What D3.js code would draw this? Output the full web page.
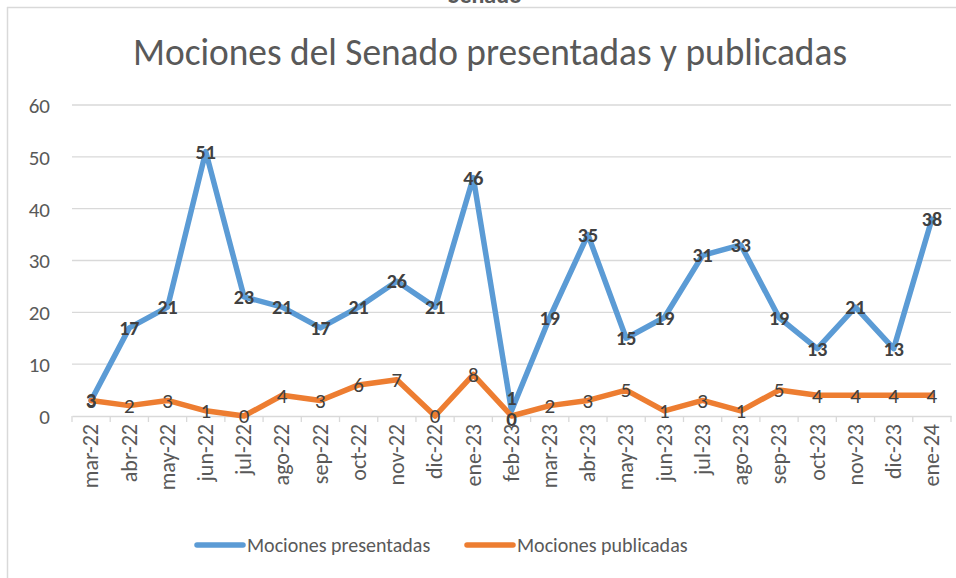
<!DOCTYPE html>
<html><head><meta charset="utf-8">
<script src="https://cdn.jsdelivr.net/npm/d3@7"></script>
<style>body{margin:0;background:#fff}svg{display:block}</style>
</head><body>
<script>
const categories = ["mar-22","abr-22","may-22","jun-22","jul-22","ago-22","sep-22","oct-22","nov-22","dic-22","ene-23","feb-23","mar-23","abr-23","may-23","jun-23","jul-23","ago-23","sep-23","oct-23","nov-23","dic-23","ene-24"];
const presentadas = [3,17,21,51,23,21,17,21,26,21,46,1,19,35,15,19,31,33,19,13,21,13,38];
const publicadas = [3,2,3,1,0,4,3,6,7,0,8,0,2,3,5,1,3,1,5,4,4,4,4];
const yTicks = [0,10,20,30,40,50,60];
const seriesNames = ["Mociones presentadas","Mociones publicadas"];
const titleText = "Mociones del Senado presentadas y publicadas";

const W = 956, H = 578;
const font = "Calibri, Carlito, 'Open Sans', sans-serif";
const svg = d3.select("body").append("svg").attr("width", W).attr("height", H);

// chart border (partially visible)
svg.append("line").attr("x1",7).attr("x2",W).attr("y1",7.5).attr("y2",7.5).attr("stroke","#d9d9d9").attr("stroke-width",1.5);
svg.append("line").attr("x1",7.5).attr("x2",7.5).attr("y1",7).attr("y2",H).attr("stroke","#d9d9d9").attr("stroke-width",1.5);
// clipped text remnant above
svg.append("text").attr("x",485).attr("y",3).attr("text-anchor","middle").attr("font-family",font).attr("font-weight","bold").attr("font-size",24).attr("fill","#595959").text("Senado");

const x = d3.scaleBand().domain(categories).range([72, 951]);
const y = d3.scaleLinear().domain([0,60]).range([416,105]);

// title
svg.append("text").attr("x",490).attr("y",65).attr("text-anchor","middle")
  .attr("font-family",font).attr("font-size",39).attr("fill","#595959").attr("textLength",714).attr("lengthAdjust","spacingAndGlyphs").text(titleText);

// gridlines
svg.append("g").selectAll("line").data(yTicks.filter(d=>d>0)).join("line")
  .attr("x1",72).attr("x2",951).attr("y1",d=>y(d)).attr("y2",d=>y(d)).attr("stroke","#d9d9d9").attr("stroke-width",1.3);

// y axis labels
const yAxis = d3.axisLeft(y).tickValues(yTicks).tickSize(0).tickPadding(0);
const gy = svg.append("g").attr("transform","translate(50,0)").call(yAxis);
gy.select(".domain").remove();
gy.selectAll("text").attr("font-family",font).attr("font-size",21).attr("fill","#595959").attr("dy","0.35em");

// x axis
const xAxis = d3.axisBottom(x).tickSize(0).tickPadding(0);
const gx = svg.append("g").attr("transform","translate(0,416)").call(xAxis);
gx.select(".domain").attr("stroke","#d9d9d9").attr("stroke-width",1.3);
gx.selectAll("text").attr("font-family",font).attr("font-size",22).attr("fill","#595959")
  .attr("transform","rotate(-90)").attr("text-anchor","end").attr("x",-8).attr("y",0).attr("dy","0.33em");
// tick marks at band boundaries
const bounds = categories.map(c=>x(c)).concat([x.range()[1]]);
svg.append("g").selectAll("line").data(bounds).join("line")
  .attr("x1",d=>d).attr("x2",d=>d).attr("y1",416).attr("y2",422).attr("stroke","#d9d9d9").attr("stroke-width",1.3);

const cx = c => x(c) + x.bandwidth()/2;
const line = d3.line().x((d,i)=>cx(categories[i])).y(d=>y(d));

svg.append("path").datum(presentadas).attr("d",line).attr("fill","none").attr("stroke","#5B9BD5").attr("stroke-width",5.5).attr("stroke-linejoin","round").attr("stroke-linecap","round");
svg.append("path").datum(publicadas).attr("d",line).attr("fill","none").attr("stroke","#ED7D31").attr("stroke-width",5.5).attr("stroke-linejoin","round").attr("stroke-linecap","round");

// labels (feb-23 labels are nudged apart as in the original)
const nudgeP = (d,i)=> categories[i]==="feb-23" ? -13 : 0;
const nudgeQ = (d,i)=> categories[i]==="feb-23" ? 3 : 0;
svg.append("g").selectAll("text").data(publicadas).join("text")
  .attr("x",(d,i)=>cx(categories[i])).attr("y",(d,i)=>y(d)+nudgeQ(d,i)).attr("dy","0.35em").attr("text-anchor","middle")
  .attr("font-family",font).attr("font-size",21).attr("fill","#404040")
  .attr("font-weight",(d,i)=>categories[i]==="feb-23"?"bold":"normal").text(d=>d);
svg.append("g").selectAll("text").data(presentadas).join("text")
  .attr("x",(d,i)=>cx(categories[i])).attr("y",(d,i)=>y(d)+nudgeP(d,i)).attr("dy","0.35em").attr("text-anchor","middle")
  .attr("font-family",font).attr("font-size",20).attr("font-weight","bold").attr("fill","#404040").text(d=>d);

// legend
const legend = [{name:seriesNames[0],color:"#5B9BD5",x:197},{name:seriesNames[1],color:"#ED7D31",x:467}];
const lg = svg.append("g").selectAll("g").data(legend).join("g");
lg.append("line").attr("x1",d=>d.x).attr("x2",d=>d.x+46).attr("y1",545).attr("y2",545).attr("stroke",d=>d.color).attr("stroke-width",5.5).attr("stroke-linecap","round");
lg.append("text").attr("x",d=>d.x+50).attr("y",545).attr("dy","0.35em").attr("font-family",font).attr("font-size",20).attr("fill","#595959").text(d=>d.name);
</script>
</body></html>
